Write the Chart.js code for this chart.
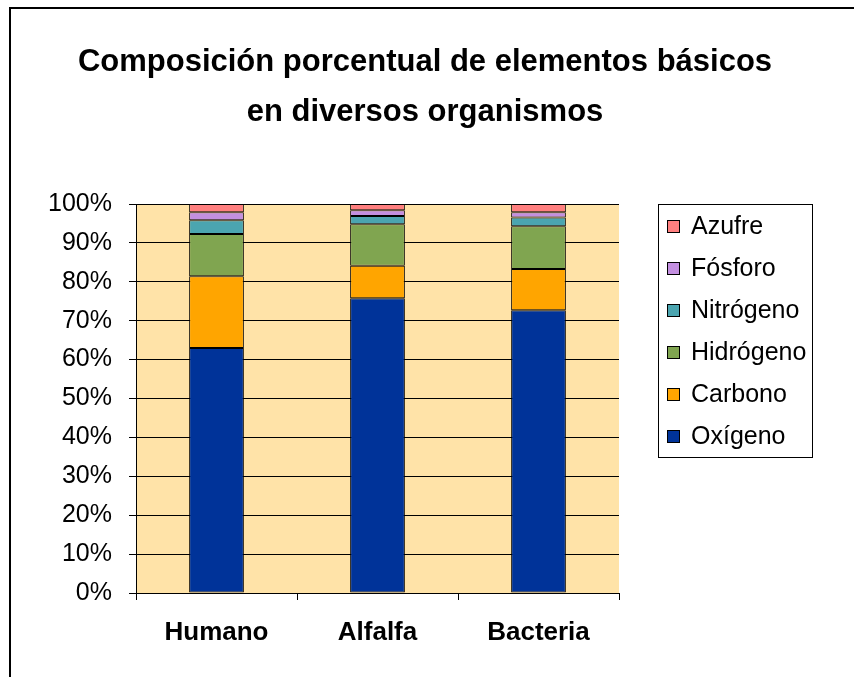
<!DOCTYPE html>
<html>
<head>
<meta charset="utf-8">
<script src="https://cdn.jsdelivr.net/npm/chart.js@4"></script>
<style>
  html, body { margin: 0; padding: 0; background: #fff; }
  #wrap { position: relative; width: 854px; height: 677px; }
</style>
</head>
<body>
<div id="wrap"><canvas id="chart" width="854" height="677"></canvas></div>
<script>
const categories = ['Humano', 'Alfalfa', 'Bacteria'];

const oxigeno   = [63.0, 75.8, 72.7];
const carbono   = [18.4, 8.3, 10.6];
const hidrogeno = [10.9, 10.7, 11.0];
const nitrogeno = [3.5, 2.1, 2.2];
const fosforo   = [2.1, 1.5, 1.4];
const azufre    = [2.1, 1.6, 2.1];

const yTicks = [0, 10, 20, 30, 40, 50, 60, 70, 80, 90, 100];

const titleLines = ['Composición porcentual de elementos básicos', 'en diversos organismos'];

const FONT = "'Liberation Sans', Arial, sans-serif";

// frame round the picture, title, light background of the plot area
const framePlugin = {
    id: 'frame',
    beforeDraw(chart) {
        const ctx = chart.ctx;
        const a = chart.chartArea;
        ctx.save();
        ctx.fillStyle = '#fff';
        ctx.fillRect(0, 0, chart.width, chart.height);
        ctx.strokeStyle = '#000';
        ctx.lineWidth = 2;
        ctx.beginPath();
        ctx.moveTo(10, chart.height);
        ctx.lineTo(10, 8);
        ctx.lineTo(chart.width, 8);
        ctx.stroke();
        ctx.fillStyle = '#FFE3A8';
        ctx.fillRect(a.left, a.top, a.right - a.left, a.bottom - a.top);

        ctx.fillStyle = '#000';
        ctx.font = 'bold 31px ' + FONT;
        ctx.textAlign = 'center';
        ctx.textBaseline = 'middle';
        titleLines.forEach((t, i) => ctx.fillText(t, 425, 62 + i * 50));
        ctx.restore();
    }
};

// legend in a bordered box, top series first
const legendBox = {
    id: 'legendBox',
    afterDraw(chart) {
        const ctx = chart.ctx;
        const left = 658, top = 204, w = 154, h = 253;
        ctx.save();
        ctx.strokeStyle = '#000';
        ctx.lineWidth = 1;
        ctx.strokeRect(left + 0.5, top + 0.5, w, h);
        ctx.font = '25px ' + FONT;
        ctx.textBaseline = 'middle';
        const sets = chart.data.datasets.slice().reverse();
        sets.forEach((ds, i) => {
            const y = 226 + i * 42;
            ctx.fillStyle = ds.backgroundColor;
            ctx.fillRect(667, y - 6, 12, 12);
            ctx.strokeStyle = '#000';
            ctx.strokeRect(667.5, y - 5.5, 12, 12);
            ctx.fillStyle = '#000';
            ctx.fillText(ds.label, 691, y + 1);
        });
        ctx.restore();
    }
};

function ds(label, data, color) {
    return {
        label: label,
        data: data,
        backgroundColor: color,
        borderColor: '#000',
        borderWidth: 1,
        borderSkipped: false,
        barPercentage: 0.34,
        categoryPercentage: 1.0
    };
}

new Chart(document.getElementById('chart'), {
    type: 'bar',
    data: {
        labels: categories,
        datasets: [
            ds('Oxígeno', oxigeno, '#003399'),
            ds('Carbono', carbono, '#FFA500'),
            ds('Hidrógeno', hidrogeno, '#80A550'),
            ds('Nitrógeno', nitrogeno, '#4BA5B0'),
            ds('Fósforo', fosforo, '#C38FE0'),
            ds('Azufre', azufre, '#FF7F7F')
        ]
    },
    options: {
        responsive: false,
        animation: false,
        layout: { padding: { top: 204, right: 235, bottom: 28, left: 0 } },
        plugins: {
            legend: { display: false },
            tooltip: { enabled: false },
            title: { display: false }
        },
        scales: {
            x: {
                stacked: true,
                offset: true,
                grid: {
                    display: true,
                    offset: true,
                    drawOnChartArea: false,
                    color: '#000',
                    tickLength: 7
                },
                border: { color: '#000', width: 1 },
                ticks: {
                    color: '#000',
                    padding: 17,
                    font: { family: FONT, size: 26, weight: 'bold' }
                },
                afterFit(scale) { scale.height = 56; }
            },
            y: {
                stacked: true,
                min: 0,
                max: 100,
                afterBuildTicks(scale) { scale.ticks = yTicks.map(v => ({ value: v })); },
                grid: { color: '#000', lineWidth: 1, tickLength: 7 },
                border: { color: '#000', width: 1 },
                ticks: {
                    color: '#000',
                    padding: 17,
                    font: { family: FONT, size: 25 },
                    callback: v => v + '%'
                },
                afterFit(scale) { scale.width = 136; }
            }
        }
    },
    plugins: [framePlugin, legendBox]
});
</script>
</body>
</html>
